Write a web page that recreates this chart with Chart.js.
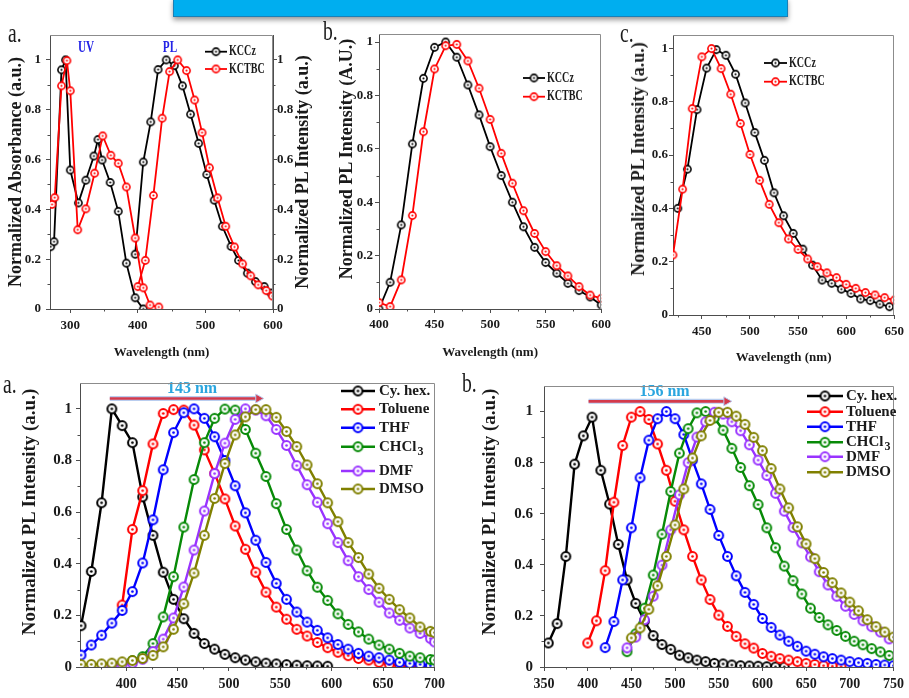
<!DOCTYPE html>
<html>
<head>
<meta charset="utf-8">
<title>KCCz / KCTBC absorption and emission</title>
<script src="https://cdn.jsdelivr.net/npm/chart.js@4.4.1/dist/chart.umd.min.js"></script>
<style>
  html, body { margin: 0; padding: 0; background: #fff; }
  body { position: relative; width: 909px; height: 698px; overflow: hidden; font-family: 'Liberation Serif', 'Times New Roman', serif; color: #1a1a1a; }
  canvas { position: absolute; }
  #banner { position: absolute; left: 173px; top: -2px; width: 613px; height: 17px; background: #00aeef; border: 1px solid #1b7fb5; box-shadow: 0 3px 5px rgba(0,0,0,.4); }
  .tag { position: absolute; font-size: 28px; line-height: 28px; transform: scaleX(.7); transform-origin: left center; }
  .ytitle { position: absolute; white-space: nowrap; font-weight: bold; line-height: 1; transform: translate(-50%, -50%) rotate(-90deg); }
  .note { position: absolute; font-weight: bold; font-size: 16px; line-height: 16px; color: #2424e6; transform: translateX(-50%) scaleX(.7); }
</style>
</head>
<body>
<div id="banner"></div>
<canvas id="uvpl" width="320" height="345" style="left:0;top:20px"></canvas>
<canvas id="plB" width="303" height="345" style="left:312px;top:20px"></canvas>
<canvas id="plC" width="297" height="345" style="left:612px;top:20px"></canvas>
<canvas id="solvA" width="450" height="328" style="left:0;top:370px"></canvas>
<canvas id="solvB" width="454" height="328" style="left:455px;top:370px"></canvas>

<div class="tag" style="left:8px;top:18.5px">a.</div>
<div class="tag" style="left:323px;top:16.5px">b.</div>
<div class="tag" style="left:620px;top:18.5px">c.</div>
<div class="tag" style="left:3px;top:369.5px">a.</div>
<div class="tag" style="left:462px;top:368.5px">b.</div>

<div class="note" style="left:85.5px;top:38.6px">UV</div>
<div class="note" style="left:170px;top:38.6px">PL</div>

<div class="ytitle" style="left:15px;top:172px;font-size:18px">Normalized Absorbance (a.u.)</div>
<div class="ytitle" style="left:302px;top:172px;font-size:18px">Normalized PL Intensity (a.u.)</div>
<div class="ytitle" style="left:346px;top:159px;font-size:18px">Normalized PL Intensity (A.U.)</div>
<div class="ytitle" style="left:638px;top:159px;font-size:18px">Normalized PL Intensity (a.u.)</div>
<div class="ytitle" style="left:28px;top:512px;font-size:19px">Normalized PL Intensity (a.u.)</div>
<div class="ytitle" style="left:488px;top:512px;font-size:19px">Normalized PL Intensity (a.u.)</div>

<script>
// ---- UV / PL of KCCz and KCTBC (top left) ----
const uvWaveKCCz = [271, 276, 287, 293, 300, 312, 323, 335, 341, 347, 359, 371, 383, 396, 408];
const uvKCCz = [0.25, 0.27, 0.96, 1.0, 0.558, 0.426, 0.517, 0.614, 0.68, 0.598, 0.508, 0.392, 0.184, 0.045, 0.0];
const plWaveKCCz = [396, 408, 419, 430, 442, 454, 466, 478, 490, 502, 513, 525, 538, 549, 562, 574, 587, 597];
const plKCCz = [0.22, 0.59, 0.751, 0.961, 1.0, 0.977, 0.896, 0.782, 0.665, 0.54, 0.437, 0.332, 0.251, 0.195, 0.144, 0.11, 0.09, 0.064];
const uvWaveKCTBC = [273, 277, 287, 295, 300, 311, 323, 336, 348, 360, 371, 383, 396, 408, 418, 431];
const uvKCTBC = [0.42, 0.447, 0.896, 0.997, 0.876, 0.318, 0.402, 0.545, 0.695, 0.617, 0.585, 0.49, 0.285, 0.085, 0.016, 0.008];
const plWaveKCTBC = [400, 411, 423, 436, 447, 459, 472, 484, 495, 506, 518, 530, 543, 555, 567, 578, 590, 599];
const plKCTBC = [0.09, 0.195, 0.456, 0.766, 0.953, 1.0, 0.957, 0.839, 0.708, 0.567, 0.446, 0.332, 0.249, 0.181, 0.133, 0.097, 0.074, 0.052];

// ---- PL, panel b ----
const waveB = [400, 410, 420, 430, 440, 450, 460, 470, 480, 490, 500, 510, 520, 530, 540, 550, 560, 570, 580, 590, 600];
const plB_KCCz = [0.0, 0.1, 0.315, 0.618, 0.864, 0.98, 1.0, 0.943, 0.839, 0.727, 0.608, 0.5, 0.4, 0.308, 0.231, 0.174, 0.134, 0.096, 0.069, 0.045, 0.015];
const plB_KCTBC = [0.024, 0.009, 0.109, 0.35, 0.664, 0.899, 0.986, 0.991, 0.929, 0.827, 0.71, 0.583, 0.471, 0.368, 0.283, 0.215, 0.162, 0.124, 0.084, 0.052, 0.04];

// ---- PL, panel c ----
const waveC_KCCz = [425, 435, 445, 455, 465, 475, 485, 495, 505, 515, 525, 535, 545, 555, 565, 575, 585, 595, 605, 615, 625, 635, 645];
const plC_KCCz = [0.4, 0.547, 0.77, 0.926, 0.995, 0.974, 0.903, 0.795, 0.684, 0.58, 0.458, 0.372, 0.306, 0.247, 0.187, 0.131, 0.119, 0.097, 0.081, 0.06, 0.054, 0.041, 0.031];
const waveC_KCTBC = [420, 430, 440, 450, 460, 470, 480, 490, 500, 510, 520, 530, 540, 550, 560, 570, 580, 590, 600, 610, 620, 630, 640, 650];
const plC_KCTBC = [0.225, 0.472, 0.774, 0.968, 0.999, 0.924, 0.828, 0.718, 0.602, 0.505, 0.415, 0.346, 0.285, 0.246, 0.21, 0.181, 0.158, 0.14, 0.115, 0.1, 0.084, 0.075, 0.065, 0.056];

// ---- solvatochromic PL (bottom) ----
const solvents = ['Cy. hex.', 'Toluene', 'THF', 'CHCl3', 'DMF', 'DMSO'];

const waveSolvA = [356, 366, 376, 386, 396, 406, 416, 426, 436, 446, 456, 466, 476, 486, 496, 506, 516, 526, 536, 546, 556, 566, 576, 586, 596, 606, 616, 626, 636, 646, 656, 666, 676, 686, 696, 700];
const cyhexA = [0.16, 0.37, 0.636, 1.0, 0.935, 0.869, 0.659, 0.51, 0.367, 0.262, 0.187, 0.13, 0.091, 0.069, 0.049, 0.036, 0.027, 0.02, 0.015, 0.012, 0.009, 0.007, 0.005, 0.004, 0.003, null, null, null, null, null, null, null, null, null, null, null];
const tolueneA = [null, null, null, null, 0.24, 0.533, 0.683, 0.864, 0.982, 0.997, 0.995, 0.937, 0.841, 0.75, 0.651, 0.546, 0.456, 0.367, 0.29, 0.232, 0.185, 0.146, 0.12, 0.095, 0.075, 0.057, 0.044, 0.033, 0.027, 0.018, 0.01, 0.005, 0.002, 0.001, 0, null];
const thfA = [0.046, 0.085, 0.123, 0.17, 0.219, 0.292, 0.403, 0.57, 0.764, 0.908, 0.985, 1.0, 0.963, 0.892, 0.8, 0.702, 0.597, 0.491, 0.405, 0.324, 0.262, 0.213, 0.174, 0.142, 0.113, 0.087, 0.069, 0.053, 0.042, 0.036, 0.027, 0.018, 0.014, 0.01, 0.005, null];
const chcl3A = [null, null, null, null, null, 0.025, 0.04, 0.091, 0.194, 0.35, 0.542, 0.726, 0.869, 0.963, 0.999, 0.995, 0.92, 0.828, 0.738, 0.633, 0.533, 0.453, 0.373, 0.309, 0.258, 0.206, 0.165, 0.136, 0.108, 0.085, 0.069, 0.053, 0.042, 0.036, 0.029, 0.027];
const dmfA = [null, null, null, 0.005, 0.01, 0.015, 0.03, 0.06, 0.108, 0.19, 0.31, 0.453, 0.604, 0.749, 0.867, 0.959, 1.0, 0.995, 0.973, 0.92, 0.858, 0.78, 0.706, 0.638, 0.555, 0.482, 0.412, 0.35, 0.3, 0.251, 0.209, 0.181, 0.151, 0.13, 0.11, 0.097];
const dmsoA = [0.01, 0.01, 0.012, 0.015, 0.02, 0.025, 0.033, 0.045, 0.078, 0.146, 0.245, 0.364, 0.51, 0.653, 0.788, 0.899, 0.969, 0.997, 0.997, 0.967, 0.912, 0.854, 0.783, 0.71, 0.636, 0.563, 0.482, 0.424, 0.36, 0.305, 0.262, 0.222, 0.19, 0.155, 0.138, 0.133];
const shiftA = 143;

const waveB_cy = [355, 365, 375, 385, 395, 405, 415, 425, 435, 445, 455, 465, 475, 485, 495, 505, 515, 525, 535, 545, 555, 565, 575, 585, 595, 605, 615, 625];
const cyhexB = [0.094, 0.17, 0.433, 0.794, 0.905, 0.978, 0.77, 0.638, 0.48, 0.341, 0.249, 0.18, 0.123, 0.088, 0.069, 0.046, 0.036, 0.027, 0.021, 0.014, 0.012, 0.008, 0.005, 0.004, 0.003, 0.001, 0, 0];
const waveB_tol = [400, 410, 420, 430, 440, 450, 460, 470, 480, 490, 500, 510, 520, 530, 540, 550, 560, 570, 580, 590, 600, 610, 620, 630, 640, 650, 660, 670, 680, 690];
const tolueneB = [0.094, 0.181, 0.377, 0.645, 0.867, 0.978, 1.0, 0.969, 0.873, 0.77, 0.649, 0.537, 0.433, 0.341, 0.264, 0.203, 0.159, 0.12, 0.091, 0.074, 0.053, 0.042, 0.033, 0.027, 0.021, 0.014, 0.01, 0.005, 0.003, 0.001];
const waveB_thf = [420, 430, 440, 450, 460, 470, 480, 490, 500, 510, 520, 530, 540, 550, 560, 570, 580, 590, 600, 610, 620, 630, 640, 650, 660, 670, 680, 690, 700, 710, 720, 730, 740, 750];
const thfB = [0.076, 0.178, 0.341, 0.545, 0.741, 0.888, 0.972, 1.0, 0.972, 0.91, 0.81, 0.717, 0.617, 0.515, 0.433, 0.357, 0.292, 0.245, 0.19, 0.155, 0.125, 0.101, 0.081, 0.062, 0.05, 0.04, 0.033, 0.027, 0.021, 0.017, 0.014, 0.01, 0.008, 0.005];
const waveB_mid = [445, 455, 465, 475, 485, 495, 505, 515, 525, 535, 545, 555, 565, 575, 585, 595, 605, 615, 625, 635, 645, 655, 665, 675, 685, 695, 705, 715, 725, 735, 745];
const chcl3B = [0.06, 0.13, 0.23, 0.36, 0.52, 0.687, 0.837, 0.933, 0.995, 1.0, 0.975, 0.927, 0.856, 0.781, 0.71, 0.636, 0.545, 0.467, 0.395, 0.338, 0.286, 0.23, 0.194, 0.165, 0.143, 0.12, 0.101, 0.087, 0.072, 0.059, 0.045];
const dmfB = [0.075, 0.117, 0.185, 0.277, 0.399, 0.537, 0.674, 0.8, 0.9, 0.96, 0.997, 0.99, 0.96, 0.925, 0.87, 0.81, 0.75, 0.68, 0.61, 0.546, 0.486, 0.431, 0.373, 0.321, 0.277, 0.238, 0.206, 0.181, 0.158, 0.137, 0.11];
const waveB_dmso = [450, 460, 470, 480, 490, 500, 510, 520, 530, 540, 550, 560, 570, 580, 590, 600, 610, 620, 630, 640, 650, 660, 670, 680, 690, 700, 710, 720, 730, 740, 750];
const dmsoB = [0.114, 0.153, 0.226, 0.318, 0.433, 0.556, 0.697, 0.818, 0.905, 0.965, 0.997, 0.997, 0.982, 0.95, 0.899, 0.847, 0.777, 0.697, 0.623, 0.549, 0.482, 0.424, 0.37, 0.33, 0.29, 0.254, 0.22, 0.185, 0.158, 0.137, 0.117];
const shiftB = 156;

// ---- tick positions ----
const normTicks = [0, 0.2, 0.4, 0.6, 0.8, 1];
const normMinor = [0.1, 0.3, 0.5, 0.7, 0.9];
const uvplTicks = [300, 400, 500, 600];
const uvplMinor = [350, 450, 550];
const bTicks = [400, 450, 500, 550, 600];
const bMinor = [425, 475, 525, 575];
const cTicks = [450, 500, 550, 600, 650];
const cMinor = [425, 475, 525, 575, 625];
const solvATicks = [400, 450, 500, 550, 600, 650, 700];
const solvAMinor = [375, 425, 475, 525, 575, 625, 675];
const solvBTicks = [350, 400, 450, 500, 550, 600, 650, 700, 750];
const solvBMinor = [375, 425, 475, 525, 575, 625, 675, 725];

const FONT = "'Liberation Serif', 'Times New Roman', serif";
const INK = '#1a1a1a', AXIS = '#4d4d4d', FRAME = '#8c8c8c';
const BLACK = '#000000', RED = '#ff0000';
const SOLV_COLORS = ['#000000', '#ff0000', '#0000ff', '#078a07', '#9933ff', '#808000'];
const TOP = { lw: 1.8, r: 3.6, rw: 1.6 };
const BOTTOM = { lw: 2.4, r: 4.4, rw: 2 };

Chart.defaults.font.family = FONT;
Chart.defaults.font.weight = 'bold';
Chart.defaults.color = INK;

// hollow circle with a dot in the middle
function ring(color, r, lw) {
  const c = document.createElement('canvas');
  const s = Math.ceil(2 * r + lw + 2);
  c.width = c.height = s;
  const g = c.getContext('2d');
  g.beginPath(); g.arc(s / 2, s / 2, r, 0, Math.PI * 2);
  g.fillStyle = '#fff'; g.fill();
  g.lineWidth = lw; g.strokeStyle = color; g.stroke();
  g.beginPath(); g.arc(s / 2, s / 2, r * 0.3, 0, Math.PI * 2);
  g.fillStyle = color; g.fill();
  return c;
}

function series(label, color, wave, values, st, order, yAxisID) {
  return {
    label, order, yAxisID: yAxisID || 'y',
    data: wave.map((x, i) => ({ x, y: values[i] })),
    borderColor: color, backgroundColor: color, borderWidth: st.lw,
    pointStyle: ring(color, st.r, st.rw), pointRadius: st.r + 1,
    tension: 0
  };
}

function xAxis(o) {
  return {
    type: 'linear', position: 'bottom', min: o.min, max: o.max,
    afterBuildTicks: s => { s.ticks = o.ticks.map(v => ({ value: v })); },
    afterFit: s => { s.height = o.h; },
    grid: { drawOnChartArea: false, tickLength: 4, tickColor: AXIS },
    border: { color: AXIS },
    ticks: { padding: o.pad, autoSkip: false, maxRotation: 0, color: INK, font: { size: o.size, weight: 'bold' } },
    title: { display: !!o.title, text: o.title, color: INK, font: { size: 13, weight: 'bold' }, padding: { top: 0, bottom: o.titlePad || 0 } }
  };
}

function yAxis(o) {
  return {
    type: 'linear', position: o.pos || 'left', min: 0, max: o.max,
    afterBuildTicks: s => { s.ticks = normTicks.map(v => ({ value: v })); },
    afterFit: s => { s.width = o.w; },
    grid: { drawOnChartArea: false, tickLength: 4, tickColor: AXIS },
    border: { color: AXIS },
    ticks: { padding: o.pad, color: INK, font: { size: o.size, weight: 'bold' }, callback: v => String(+v.toFixed(1)) }
  };
}

// short minor ticks plus the grey top/right frame
const minorTicks = {
  id: 'minorTicks',
  afterDraw(chart, args, o) {
    if (!o.at) return;
    const { ctx, chartArea: a } = chart;
    ctx.save();
    ctx.lineWidth = 1;
    ctx.strokeStyle = FRAME;
    const top = Math.round(a.top) + 0.5, right = Math.round(a.right) - 0.5;
    ctx.beginPath();
    ctx.moveTo(a.left, top); ctx.lineTo(right, top); ctx.lineTo(right, a.bottom);
    ctx.stroke();
    ctx.strokeStyle = AXIS;
    Object.entries(o.at).forEach(([id, vals]) => {
      const s = chart.scales[id];
      vals.forEach(v => {
        const p = Math.round(s.getPixelForValue(v)) + 0.5;
        ctx.beginPath();
        if (s.isHorizontal()) { ctx.moveTo(p, a.bottom); ctx.lineTo(p, a.bottom + 2.5); }
        else if (s.position === 'left') { ctx.moveTo(a.left, p); ctx.lineTo(a.left - 2.5, p); }
        else { ctx.moveTo(a.right, p); ctx.lineTo(a.right + 2.5, p); }
        ctx.stroke();
      });
    });
    ctx.restore();
  }
};

// line-and-marker legend drawn inside the plot
const keyBox = {
  id: 'keyBox',
  afterDraw(chart, args, o) {
    if (!o.names) return;
    const ctx = chart.ctx;
    ctx.save();
    ctx.textBaseline = 'middle';
    o.names.forEach((name, i) => {
      const y = o.ys[i], color = o.colors[i];
      ctx.strokeStyle = color; ctx.lineWidth = o.st.lw;
      ctx.beginPath(); ctx.moveTo(o.x0, y); ctx.lineTo(o.x1, y); ctx.stroke();
      const m = ring(color, o.st.r, o.st.rw);
      ctx.drawImage(m, (o.x0 + o.x1) / 2 - m.width / 2, y - m.height / 2);
      const parts = name.match(/^(.*?)(\d*)$/);
      ctx.save();
      ctx.translate(o.tx, y);
      ctx.scale(o.squeeze || 1, 1);
      ctx.fillStyle = INK;
      ctx.font = `bold ${o.size}px ${FONT}`;
      ctx.fillText(parts[1], 0, 0);
      if (parts[2]) {
        const w = ctx.measureText(parts[1]).width;
        ctx.font = `bold ${Math.round(o.size * 0.8)}px ${FONT}`;
        ctx.fillText(parts[2], w + 1, o.size * 0.32);
      }
      ctx.restore();
    });
    ctx.restore();
  }
};

// arrow showing the emission shift, with its label
const shiftArrow = {
  id: 'shiftArrow',
  afterDatasetsDraw(chart, args, o) {
    if (!o.shift) return;
    const { ctx, scales: { x, y } } = chart;
    const x0 = x.getPixelForValue(o.from), x1 = x.getPixelForValue(o.from + o.shift);
    const py = y.getPixelForValue(o.at);
    ctx.save();
    ctx.beginPath(); ctx.moveTo(x0, py); ctx.lineTo(x1, py);
    ctx.strokeStyle = '#b9cdef'; ctx.lineWidth = 5; ctx.stroke();
    ctx.strokeStyle = '#d4394b'; ctx.lineWidth = 2.6; ctx.stroke();
    ctx.beginPath();
    ctx.moveTo(x1 + 7, py); ctx.lineTo(x1 - 1, py - 4.5); ctx.lineTo(x1 - 1, py + 4.5); ctx.closePath();
    ctx.fillStyle = '#d4394b'; ctx.fill();
    ctx.strokeStyle = '#b9cdef'; ctx.lineWidth = 1; ctx.stroke();
    ctx.font = `bold 16px ${FONT}`;
    ctx.fillStyle = '#2ba6df';
    ctx.textAlign = 'center'; ctx.textBaseline = 'middle';
    ctx.fillText(`${o.shift} nm`, x.getPixelForValue(o.labelAt), y.getPixelForValue(o.labelY));
    ctx.restore();
  }
};

Chart.register(minorTicks, keyBox, shiftArrow);

function options(padding, scales, plugins) {
  return {
    responsive: false, animation: false, events: [],
    layout: { padding },
    scales,
    plugins: Object.assign({ legend: { display: false }, tooltip: { enabled: false } }, plugins)
  };
}

// a. UV-vis absorption and PL
new Chart('uvpl', {
  type: 'line',
  data: { datasets: [
    series('KCCz', BLACK, uvWaveKCCz, uvKCCz, TOP, 2, 'y'),
    series('KCCz', BLACK, plWaveKCCz, plKCCz, TOP, 2, 'y2'),
    series('KCTBC', RED, uvWaveKCTBC, uvKCTBC, TOP, 1, 'y'),
    series('KCTBC', RED, plWaveKCTBC, plKCTBC, TOP, 1, 'y2')
  ] },
  options: options({ top: 15, left: 0, right: 0, bottom: 0 }, {
    x: xAxis({ min: 270, max: 600, ticks: uvplTicks, h: 56, size: 13, pad: 5, title: 'Wavelength (nm)', titlePad: 5 }),
    y: yAxis({ max: 1.1, w: 50, size: 13, pad: 5 }),
    y2: yAxis({ pos: 'right', max: 1.1, w: 47, size: 13, pad: 0 })
  }, {
    minorTicks: { at: { x: uvplMinor, y: normMinor, y2: normMinor } },
    keyBox: { names: ['KCCz', 'KCTBC'], colors: [BLACK, RED], x0: 205, x1: 227, tx: 229, ys: [31.7, 49], size: 14, squeeze: 0.72, st: TOP }
  })
});

// b. PL
new Chart('plB', {
  type: 'line',
  data: { datasets: [
    series('KCCz', BLACK, waveB, plB_KCCz, TOP, 2),
    series('KCTBC', RED, waveB, plB_KCTBC, TOP, 1)
  ] },
  options: options({ top: 14, left: 0, right: 12, bottom: 0 }, {
    x: xAxis({ min: 400, max: 600, ticks: bTicks, h: 56, size: 13, pad: 4, title: 'Wavelength (nm)', titlePad: 5 }),
    y: yAxis({ max: 1.03, w: 67, size: 13, pad: 2 })
  }, {
    minorTicks: { at: { x: bMinor, y: normMinor } },
    keyBox: { names: ['KCCz', 'KCTBC'], colors: [BLACK, RED], x0: 211, x1: 233, tx: 235, ys: [58, 76.7], size: 14, squeeze: 0.72, st: TOP }
  })
});

// c. PL
new Chart('plC', {
  type: 'line',
  data: { datasets: [
    series('KCCz', BLACK, waveC_KCCz, plC_KCCz, TOP, 2),
    series('KCTBC', RED, waveC_KCTBC, plC_KCTBC, TOP, 1)
  ] },
  options: options({ top: 15, left: 0, right: 8, bottom: 0 }, {
    x: xAxis({ min: 420, max: 650, ticks: cTicks, h: 50, size: 13, pad: 5, title: 'Wavelength (nm)', titlePad: 0 }),
    y: yAxis({ max: 1.05, w: 61, size: 13, pad: 1 })
  }, {
    minorTicks: { at: { x: cMinor, y: normMinor } },
    keyBox: { names: ['KCCz', 'KCTBC'], colors: [BLACK, RED], x0: 152, x1: 175, tx: 177, ys: [43, 61.7], size: 14, squeeze: 0.72, st: TOP }
  })
});

// bottom: emission in solvents of increasing polarity
const solvSetA = [cyhexA, tolueneA, thfA, chcl3A, dmfA, dmsoA];
new Chart('solvA', {
  type: 'line',
  data: { datasets: solvSetA.map((vals, i) => series(solvents[i], SOLV_COLORS[i], waveSolvA, vals, BOTTOM, 6 - i)) },
  options: options({ top: 10, left: 0, right: 13, bottom: 0 }, {
    x: xAxis({ min: 355, max: 700, ticks: solvATicks, h: 31, size: 14, pad: 5 }),
    y: yAxis({ max: 1.1, w: 80, size: 15, pad: 4 })
  }, {
    minorTicks: { at: { x: solvAMinor, y: normMinor } },
    keyBox: { names: solvents, colors: SOLV_COLORS, x0: 341, x1: 375, tx: 379, ys: [21, 39.3, 57.7, 76.7, 101, 119], size: 15, st: BOTTOM },
    shiftArrow: { from: 384, shift: shiftA, at: 1.04, labelAt: 464, labelY: 1.077 }
  })
});

const solvWaveB = [waveB_cy, waveB_tol, waveB_thf, waveB_mid, waveB_mid, waveB_dmso];
const solvSetB = [cyhexB, tolueneB, thfB, chcl3B, dmfB, dmsoB];
new Chart('solvB', {
  type: 'line',
  data: { datasets: solvSetB.map((vals, i) => series(solvents[i], SOLV_COLORS[i], solvWaveB[i], vals, BOTTOM, 6 - i)) },
  options: options({ top: 10, left: 0, right: 4, bottom: 0 }, {
    x: xAxis({ min: 350, max: 750, ticks: solvBTicks, h: 31, size: 14, pad: 5 }),
    y: yAxis({ max: 1.1, w: 89, size: 15, pad: 7 })
  }, {
    minorTicks: { at: { x: solvBMinor, y: normMinor } },
    keyBox: { names: solvents, colors: SOLV_COLORS, x0: 352, x1: 388, tx: 391, ys: [26, 41.7, 56.7, 72.3, 86.7, 102.3], size: 15, st: BOTTOM },
    shiftArrow: { from: 401, shift: shiftB, at: 1.04, labelAt: 488, labelY: 1.077 }
  })
});
</script>
</body>
</html>
